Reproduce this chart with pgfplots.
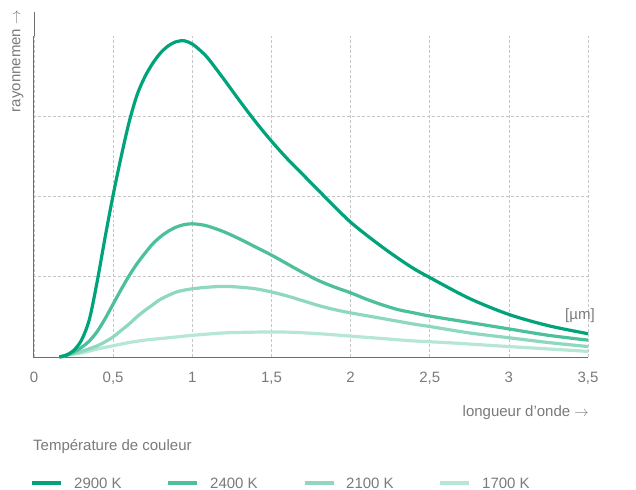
\documentclass[border=0pt]{standalone}
\usepackage{pgfplots}
\pgfplotsset{compat=1.18}
\usepackage{fontspec}
\setmainfont{Liberation Sans}

\definecolor{cA}{HTML}{00A37A}
\definecolor{cB}{HTML}{4CBF9C}
\definecolor{cC}{HTML}{8ED8C0}
\definecolor{cD}{HTML}{B6E6D6}
\definecolor{txt}{HTML}{7A7A7A}
\definecolor{axl}{HTML}{6E6E6E}

\begin{document}
\begin{tikzpicture}[font=\fontsize{15bp}{18bp}\selectfont, x=1bp, y=1bp]
\useasboundingbox (-34,-133) rectangle (602,357);
\begin{axis}[
  at={(0,0)}, anchor=origin, scale only axis,
  width=555bp, height=321bp,
  xmin=-0.006, xmax=3.5, ymin=0, ymax=4,
  axis x line*=bottom, axis y line*=left,
  axis line style={axl, line width=0.9bp},
  xtick={0,0.5,...,3.5}, ytick={1,2,3}, yticklabels={},
  major tick length=0pt,
  xticklabel style={txt, anchor=north, yshift=-12bp},
  /pgf/number format/use comma,
  /pgf/number format/assume math mode=true,
  grid=major,
  grid style={densely dashed, black!22, line width=0.6bp},
  clip=false,
  every axis plot/.append style={smooth, tension=0.5, line width=3.2bp},
]
% 1700 K
\addplot[cD] coordinates {
 (0.16,0) (0.2,0.02) (0.3,0.05) (0.4,0.10) (0.5,0.14) (0.6,0.18) (0.7,0.21)
 (0.8,0.23) (0.9,0.25) (1.0,0.27) (1.2,0.30) (1.4,0.31) (1.6,0.31) (1.8,0.29)
 (2.0,0.26) (2.2,0.23) (2.4,0.20) (2.6,0.18) (2.8,0.155) (3.0,0.13)
 (3.25,0.10) (3.5,0.07)};
% 2100 K
\addplot[cC] coordinates {
 (0.16,0) (0.2,0.02) (0.3,0.07) (0.4,0.14) (0.45,0.19) (0.5,0.25) (0.55,0.33)
 (0.6,0.41) (0.65,0.50) (0.7,0.58) (0.75,0.65) (0.8,0.72) (0.9,0.81) (1.0,0.85)
 (1.1,0.87) (1.2,0.88) (1.3,0.87) (1.4,0.85) (1.5,0.81) (1.6,0.76) (1.7,0.70)
 (1.8,0.64) (1.9,0.59) (2.0,0.55) (2.2,0.48) (2.4,0.41) (2.5,0.38) (2.75,0.30)
 (3.0,0.24) (3.25,0.18) (3.5,0.13)};
% 2400 K
\addplot[cB] coordinates {
 (0.16,0) (0.2,0.02) (0.25,0.06) (0.3,0.12) (0.35,0.20) (0.4,0.32) (0.45,0.48)
 (0.5,0.66) (0.55,0.84) (0.6,1.01) (0.65,1.16) (0.7,1.29) (0.75,1.41) (0.8,1.50)
 (0.85,1.57) (0.9,1.62) (0.95,1.65) (1.0,1.66) (1.05,1.65) (1.1,1.63) (1.2,1.56)
 (1.3,1.47) (1.4,1.37) (1.5,1.27) (1.6,1.16) (1.7,1.05) (1.8,0.95) (1.9,0.87)
 (2.0,0.80) (2.1,0.72) (2.2,0.65) (2.3,0.59) (2.4,0.55) (2.5,0.51) (2.75,0.43)
 (3.0,0.35) (3.25,0.27) (3.5,0.21)};
% 2900 K
\addplot[cA] coordinates {
 (0.16,0) (0.2,0.02) (0.25,0.08) (0.3,0.21) (0.35,0.47) (0.4,0.95) (0.45,1.50)
 (0.5,2.02) (0.55,2.49) (0.6,2.92) (0.65,3.26) (0.7,3.49) (0.75,3.66) (0.8,3.79)
 (0.85,3.88) (0.9,3.93) (0.95,3.94) (1.0,3.90) (1.05,3.82) (1.1,3.72) (1.2,3.46)
 (1.3,3.19) (1.4,2.93) (1.5,2.69) (1.6,2.47) (1.7,2.27) (1.8,2.07) (1.9,1.87)
 (2.0,1.68) (2.1,1.52) (2.2,1.37) (2.3,1.23) (2.4,1.10) (2.5,0.99) (2.75,0.73)
 (3.0,0.53) (3.25,0.39) (3.5,0.29)};
\end{axis}
\draw[axl, line width=0.9bp] (0,321) -- (0,345);
\node[txt, rotate=90, anchor=east, inner sep=0pt] at (-16,347) {rayonnemen $\rightarrow$};
\node[txt, anchor=west, inner sep=0pt] at (531,41) {[µm]};
\node[txt, anchor=east, inner sep=0pt] at (555,-56) {longueur d’onde $\rightarrow$};
\node[txt, anchor=west, inner sep=0pt] at (-1,-90) {Température de couleur};
\draw[cA, line width=3.2bp] (-2,-126) -- (27,-126);
\node[txt, anchor=west, inner sep=0pt] at (40,-126) {2900 K};
\draw[cB, line width=3.2bp] (134,-126) -- (163,-126);
\node[txt, anchor=west, inner sep=0pt] at (176,-126) {2400 K};
\draw[cC, line width=3.2bp] (271,-126) -- (300,-126);
\node[txt, anchor=west, inner sep=0pt] at (312,-126) {2100 K};
\draw[cD, line width=3.2bp] (406,-126) -- (435,-126);
\node[txt, anchor=west, inner sep=0pt] at (448,-126) {1700 K};
\end{tikzpicture}
\end{document}
